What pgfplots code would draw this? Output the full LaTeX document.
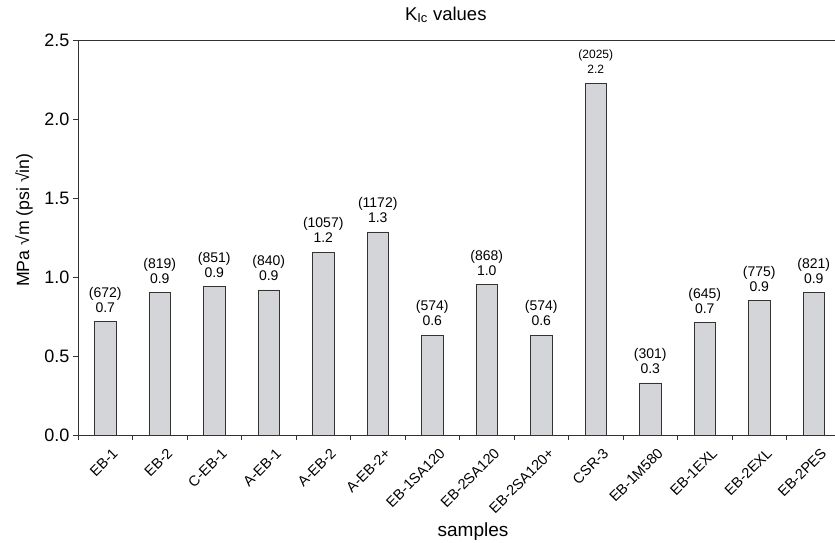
\documentclass[border=0pt]{standalone}
\usepackage{pgfplots}
\pgfplotsset{compat=1.18}
\usepackage{pgfplotstable}
\usepackage{fontspec}
\setmainfont{Liberation Sans}
\definecolor{barfill}{RGB}{212,213,217}
\definecolor{axgray}{RGB}{50,50,50}

\pgfplotstableread{
x y lab
0 0.717 {(672)\\0.7}
1 0.900 {(819)\\0.9}
2 0.938 {(851)\\0.9}
3 0.918 {(840)\\0.9}
4 1.157 {(1057)\\1.2}
5 1.285 {(1172)\\1.3}
6 0.632 {(574)\\0.6}
7 0.952 {(868)\\1.0}
8 0.632 {(574)\\0.6}
10 0.330 {(301)\\0.3}
11 0.710 {(645)\\0.7}
12 0.850 {(775)\\0.9}
13 0.900 {(821)\\0.9}
}\maindata
\pgfplotstableread{
x y lab
9 2.228 {(2025)\\2.2}
}\csrdata

\begin{document}
\begin{tikzpicture}
\begin{axis}[
  scale only axis, width=763pt, height=395pt,
  ybar, bar width=21.5pt, bar shift=0pt,
  xmin=-0.5, xmax=13.5, ymin=0, ymax=2.5,
  axis x line=box, axis y line=left,
  axis line style={-, draw=axgray, line width=0.8pt},
  tick align=outside, major tick length=5pt,
  tick style={draw=axgray, line width=0.8pt},
  xtick pos=left, ytick pos=left,
  xtick={-0.5,0.5,...,12.5}, xticklabels={},
  extra x ticks={0,1,...,13},
  extra x tick labels={EB-1,EB-2,C-EB-1,A-EB-1,A-EB-2,A-EB-2+,EB-1SA120,EB-2SA120,EB-2SA120+,CSR-3,EB-1M580,EB-1EXL,EB-2EXL,EB-2PES},
  extra x tick style={major tick length=0pt, xticklabel style={rotate=45, anchor=north east, inner sep=3pt, yshift=-10pt, xshift=-1pt, font=\fontsize{14.5}{16}\selectfont}},
  ytick={0,0.5,...,2.5},
  yticklabel style={/pgf/number format/fixed, /pgf/number format/fixed zerofill, /pgf/number format/precision=1, font=\fontsize{18}{20}\selectfont},
  /pgf/number format/assume math mode=true,
  title={K\textsubscript{Ic} values},
  title style={font=\fontsize{18.5}{20}\selectfont, at={(axis description cs:0.482,1.0354)}, anchor=base},
  ylabel={MPa √m (psi √in)},
  ylabel style={font=\fontsize{17.7}{20}\selectfont, at={(axis description cs:-0.0708,0.544)}, anchor=center},
  xlabel={samples},
  xlabel style={font=\fontsize{19}{21}\selectfont, at={(axis description cs:0.5177,-0.258)}, anchor=base},
]
\addplot[fill=barfill, draw=black!80, line width=0.7pt,
  point meta=explicit symbolic,
  nodes near coords,
  every node near coord/.append style={align=center, anchor=south, inner sep=0pt, yshift=9pt, font=\fontsize{14}{15}\selectfont, black}]
  table[x=x, y=y, meta=lab]{\maindata};
\addplot[fill=barfill, draw=black!80, line width=0.7pt,
  point meta=explicit symbolic,
  nodes near coords,
  every node near coord/.append style={align=center, anchor=south, inner sep=0pt, yshift=9pt, font=\fontsize{12}{15}\selectfont, black}]
  table[x=x, y=y, meta=lab]{\csrdata};
\coordinate (ll) at (rel axis cs:0,0);
\coordinate (ur) at (rel axis cs:1,1);
\end{axis}
\pgfresetboundingbox
\path[use as bounding box] ([shift={(-78pt,-108pt)}]ll) rectangle ([shift={(-6pt,40pt)}]ur);
\end{tikzpicture}
\end{document}
